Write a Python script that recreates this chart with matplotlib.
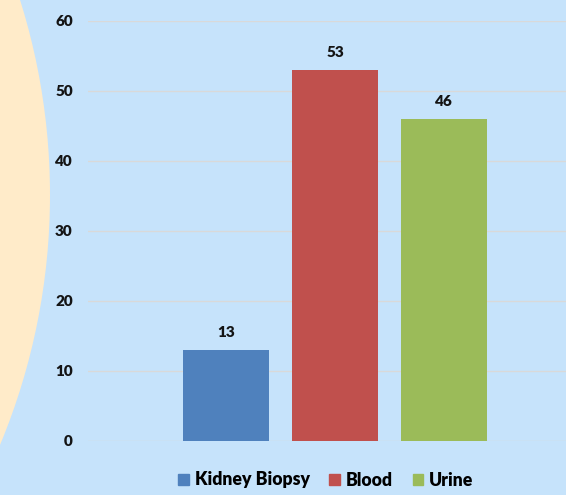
import matplotlib.pyplot as plt
import matplotlib.patches as patches

# data
samples = ["Kidney Biopsy", "Blood", "Urine"]
counts = [13, 53, 46]
yticks = [0, 10, 20, 30, 40, 50, 60]

BG = "#C6E3FB"
CREAM = "#FFEBC9"
GRID = "#D9D9D9"
COLORS = ["#4F81BD", "#C0504D", "#9BBB59"]
TXT = "#141414"
WEIGHT = "heavy"

W, H = 566, 495
fig = plt.figure(figsize=(W / 100, H / 100), dpi=100, facecolor=BG)

# big cream circle peeking in from the left
circ = patches.Ellipse((-600 / W, 1 - 195 / H), 1300 / W, 1300 / H,
                       transform=fig.transFigure, fc=CREAM, ec="none", zorder=0)
fig.add_artist(circ)

ax = fig.add_axes([88 / W, 1 - 441 / H, 1 - 88 / W, (441 - 21) / H])
ax.set_facecolor("none")

xs = list(range(len(samples)))
bars = ax.bar(xs, counts, width=0.79, color=COLORS, zorder=3, label=samples)
ax.bar_label(bars, labels=[str(v) for v in counts], padding=8,
             fontsize=11, fontweight=WEIGHT, color=TXT, family="Lato")

ax.set_xlim(-1.266, 3.119)
ax.set_ylim(0, 60)
ax.set_yticks(yticks)
ax.set_xticks([])
ax.yaxis.grid(True, color=GRID, lw=1, zorder=0)
ax.set_axisbelow(True)
for s in ax.spines.values():
    s.set_visible(False)
ax.tick_params(axis="y", length=0, pad=11, labelsize=11)
for t in ax.get_yticklabels():
    t.set_fontweight(WEIGHT)
    t.set_family("Lato")
    t.set_color(TXT)

handles = [patches.Patch(color=c) for c in COLORS]
fig.legend(handles, samples, loc="center", bbox_to_anchor=(326 / W, 1 - 480 / H),
           ncol=3, frameon=False, handlelength=0.6, handleheight=0.6,
           handletextpad=0.35, columnspacing=1.1,
           prop={"family": "Lato", "weight": WEIGHT, "size": 12.7})

fig.savefig("out.png", dpi=100, facecolor=BG)
